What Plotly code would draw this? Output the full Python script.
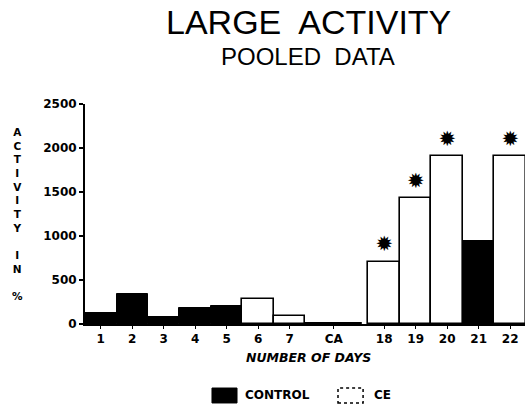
import plotly.graph_objects as go

# ---- data ----
day_labels = ["1", "2", "3", "4", "5", "6", "7", "CA", "18", "19", "20", "21", "22"]
slots      = [0, 1, 2, 3, 4, 5, 6, 7.4, 9, 10, 11, 12, 13]
activity   = [125, 340, 75, 180, 200, 280, 90, 12, 710, 1430, 1910, 940, 1910]
group      = ["CONTROL", "CONTROL", "CONTROL", "CONTROL", "CONTROL", "CE", "CE",
              "CONTROL", "CE", "CE", "CE", "CONTROL", "CE"]
bar_width  = [1, 1, 1, 1, 1, 1, 1, 1.8, 1, 1, 1, 1, 1]
significant = ["18", "19", "20", "22"]
y_ticks = [0, 500, 1000, 1500, 2000, 2500]

BOLD = dict(family="DejaVu Sans", size=12, color="black", weight="bold")

fig = go.Figure()

ctl = [i for i, g in enumerate(group) if g == "CONTROL"]
ce = [i for i, g in enumerate(group) if g == "CE"]

fig.add_trace(go.Bar(
    x=[slots[i] for i in ctl], y=[activity[i] for i in ctl],
    width=[bar_width[i] for i in ctl],
    marker=dict(color="black", line=dict(color="black", width=1)),
    showlegend=False,
))
fig.add_trace(go.Bar(
    x=[slots[i] for i in ce], y=[activity[i] for i in ce],
    width=[bar_width[i] for i in ce],
    marker=dict(color="white", line=dict(color="black", width=1.6)),
    showlegend=False,
))

star_idx = [day_labels.index(s) for s in significant]
fig.add_trace(go.Scatter(
    x=[slots[i] for i in star_idx],
    y=[activity[i] + 175 for i in star_idx],
    mode="text", text=["✹"] * len(star_idx),
    textfont=dict(family="DejaVu Sans", size=21, color="black"),
    textposition="middle center", showlegend=False, cliponaxis=False,
))

fig.update_layout(
    width=525, height=409,
    margin=dict(l=85, r=0, t=104, b=85),
    paper_bgcolor="white", plot_bgcolor="white",
    barmode="overlay", bargap=0,
    showlegend=False,
)
fig.update_xaxes(
    range=[-0.5, 13.47], tickvals=slots, ticktext=day_labels,
    showline=True, linecolor="black", linewidth=2,
    ticks="outside", ticklen=3, tickwidth=1.2, tickcolor="black",
    showgrid=False, zeroline=False, tickfont=BOLD, automargin=False,
)
fig.update_yaxes(
    range=[0, 2500], tickvals=y_ticks, ticktext=[str(v) for v in y_ticks],
    showline=True, linecolor="black", linewidth=2,
    ticks="outside", ticklen=4, tickwidth=2, tickcolor="black",
    showgrid=False, zeroline=False, tickfont=BOLD, automargin=False,
)

ann = []
ann.append(dict(text="LARGE\u00a0 ACTIVITY", x=0.507, y=1.375, xref="paper", yref="paper",
                showarrow=False, xanchor="center", yanchor="middle",
                font=dict(family="Liberation Sans", size=34, color="black")))
ann.append(dict(text="POOLED\u00a0 DATA", x=0.507, y=1.218, xref="paper", yref="paper",
                showarrow=False, xanchor="center", yanchor="middle",
                font=dict(family="Liberation Sans", size=24, color="black")))
ann.append(dict(text="NUMBER OF DAYS", x=0.507, y=-0.1545, xref="paper", yref="paper",
                showarrow=False, xanchor="center", yanchor="middle",
                font=dict(family="DejaVu Sans", size=12.5, color="black", weight="bold",
                          style="italic")))
ann.append(dict(text="<br>".join(list("ACTIVITY") + [" "] + list("IN") + [" ", "%"]),
                x=-0.1545, y=0.498, xref="paper", yref="paper",
                showarrow=False, xanchor="center", yanchor="middle", align="center",
                font=dict(family="DejaVu Sans", size=10.5, color="black", weight="bold")))
ann.append(dict(text="CONTROL", x=0.359, y=-0.323, xref="paper", yref="paper",
                showarrow=False, xanchor="left", yanchor="middle", font=BOLD))
ann.append(dict(text="CE", x=0.652, y=-0.323, xref="paper", yref="paper",
                showarrow=False, xanchor="left", yanchor="middle", font=BOLD))
fig.update_layout(annotations=ann)

fig.add_shape(type="rect", xref="paper", yref="paper",
              x0=0.2886, x1=0.3455, y0=-0.359, y1=-0.291,
              fillcolor="black", line=dict(color="black", width=1))
fig.add_shape(type="rect", xref="paper", yref="paper",
              x0=0.575, x1=0.632, y0=-0.359, y1=-0.291,
              fillcolor="white", line=dict(color="black", width=1.5, dash="dot"))

fig.write_html("out.html", config={"displayModeBar": False},
               post_script="document.body.style.margin='0';document.body.style.padding='0';")
